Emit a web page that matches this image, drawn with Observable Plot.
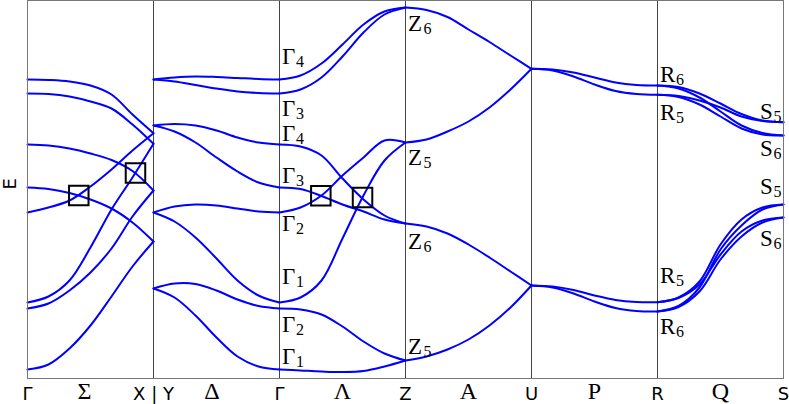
<!DOCTYPE html>
<html>
<head>
<meta charset="utf-8">
<script src="https://cdn.jsdelivr.net/npm/d3@7"></script>
<script src="https://cdn.jsdelivr.net/npm/@observablehq/plot@0.6"></script>
<style>
  html, body { margin: 0; padding: 0; background: #fff; }
</style>
</head>
<body>
<div id="chart"></div>
<script>
// Fractional positions along each k-path segment where the bands were read
const kFrac = [0, 0.1667, 0.3333, 0.5, 0.6667, 0.8333, 1];

// Band energies (arbitrary units) along Γ–X (Σ)
const bandsSigma = [
  [299, 298.5, 297, 293, 284, 264, 245.3],
  [285, 284.5, 282, 277, 270, 254, 234.7],
  [234, 233, 230, 225, 218.5, 207.5, 188],
  [191, 189.5, 185.5, 179, 170, 156, 137],
  [166, 171, 178, 192, 209, 228, 245.3],
  [76, 82, 98, 131, 169, 201, 234.7],
  [70, 75, 88, 106, 130, 162, 188],
  [9, 14, 30, 53, 82, 112, 137]
];
// Y–Γ (Δ)
const bandsDelta = [
  [299, 301, 302, 301.5, 300.5, 299.5, 299],
  [299, 297, 293.5, 290, 287, 285.5, 285],
  [253, 254.5, 253, 248, 241, 236, 234],
  [253, 247, 236, 221, 207, 196, 191],
  [166, 172, 174, 173, 170, 167, 166],
  [166, 157, 141, 120, 98, 83, 76],
  [90, 95, 94.5, 88, 79, 72.5, 70],
  [90, 81, 63, 41, 22, 12, 9]
];
// Γ–Z (Λ)
const bandsLambda = [
  [299, 303, 315, 334, 354, 367, 371],
  [285, 289, 301, 322, 346, 364, 371],
  [234, 232, 223, 200, 179, 163, 155],
  [191, 189.5, 182.5, 174, 167, 159, 155],
  [166, 171, 183, 203, 221, 238, 236],
  [76, 81, 98, 140, 183, 218, 236],
  [70, 69, 64, 52, 37, 25, 18],
  [9, 8, 7, 6.5, 7.5, 12, 18]
];
// Z–U (A), doubly degenerate pairs
const bandsA = [
  [371, 368.5, 361.5, 349, 336.5, 323, 309.7],
  [155, 152, 145, 134, 121, 107, 93],
  [236, 239, 247, 257, 271, 289, 309.7],
  [18, 22, 29, 39, 53, 71, 93]
];
// U–R (P)
const bandsP = [
  [309.7, 309, 306, 301, 296, 293.5, 293],
  [309.7, 308, 302, 294, 287.5, 284.5, 283.7],
  [93, 92, 88.5, 83, 78.5, 76.5, 76.3],
  [93, 91, 85, 77, 70.5, 67.5, 67]
];
// R–S (Q)
const bandsQ = [
  [293, 291.5, 285, 275, 264.5, 258, 256.3],
  [293, 290, 281, 267, 253, 245.5, 243],
  [283.7, 282.5, 278, 271, 262, 257.5, 256.3],
  [283.7, 281.5, 274, 262, 250, 244, 243],
  [76.3, 81, 97, 134, 159, 171, 174],
  [67, 72.5, 91, 129, 153, 169, 174],
  [76.3, 80.5, 94, 124, 147, 158, 161],
  [67, 71.5, 87, 119, 142, 156, 161]
];

// Segment boundaries (high-symmetry points between segments)
const segmentBoundaries = [1, 2, 3, 4, 5];

// Axis labels
const pointTickK = [0, 1, 2, 3, 4, 5, 6];
const pointTickLabels = ["Γ", "X | Y", "Γ", "Z", "U", "R", "S"];
const lineTickK = [0.452, 1.464, 2.5, 3.5, 4.5, 5.5];
const lineTickLabels = ["Σ", "Δ", "Λ", "A", "P", "Q"];

// Band crossings marked with squares
const crossingK = [0.407, 0.857, 2.328, 2.659];
const crossingE = [183, 205.5, 182.7, 181];

// Irreducible-representation labels
const irrepSymbols = ["Γ","Γ","Γ","Γ","Γ","Γ","Γ","Γ","Z","Z","Z","Z","R","R","R","R","S","S","S","S"];
const irrepIndices = ["4","3","4","3","2","1","2","1","6","5","6","5","6","5","5","6","5","6","5","6"];
const irrepK = [2.02,2.02,2.02,2.02,2.02,2.02,2.02,2.02, 3.02,3.02,3.02,3.02, 5.02,5.02,5.02,5.02, 5.813,5.813,5.813,5.813];
const irrepE = [315,263,238,196,148,95,47,15, 348,214,130,25, 297,259,96,45, 260,223,185,133];

// ---- build tables ----
const segmentBands = [bandsSigma, bandsDelta, bandsLambda, bandsA, bandsP, bandsQ];
const bandRows = [];
segmentBands.forEach((bands, s) => {
  bands.forEach((vals, b) => {
    vals.forEach((E, i) => bandRows.push({k: s + kFrac[i], E, id: s + "-" + b}));
  });
});
const pointTicks = pointTickK.map((k, i) => ({k, label: pointTickLabels[i]}));
const lineTicks = lineTickK.map((k, i) => ({k, label: lineTickLabels[i]}));
const crossings = crossingK.map((k, i) => ({k, E: crossingE[i]}));
const irreps = irrepSymbols.map((sym, i) => ({sym, sub: irrepIndices[i], k: irrepK[i], E: irrepE[i]}));

const subOffset = {"Γ": 14, "Z": 15.5, "R": 16, "S": 13.5};
const serif = "'Liberation Serif', 'DejaVu Serif', serif";
const sans = "'DejaVu Sans', sans-serif";

const subMarks = Object.keys(subOffset).map(sym =>
  Plot.text(irreps.filter(d => d.sym === sym), {
    x: "k", y: "E", text: "sub", textAnchor: "start", lineAnchor: "bottom",
    dx: subOffset[sym], dy: 3, fontSize: 16, fontFamily: serif, fill: "black", clip: true
  })
);

const chart = Plot.plot({
  width: 789,
  height: 404,
  marginLeft: 27,
  marginRight: 6,
  marginTop: 0,
  marginBottom: 26,
  x: {domain: [0, 6], axis: null},
  y: {domain: [0, 378], axis: null},
  style: {background: "white", fontFamily: sans},
  marks: [
    Plot.ruleX(segmentBoundaries, {stroke: "#444", strokeWidth: 1}),
    Plot.line(bandRows, {x: "k", y: "E", z: "id", stroke: "#0000ff", strokeWidth: 2, curve: "catmull-rom"}),
    Plot.dot(crossings, {x: "k", y: "E", symbol: "square", r: 11, stroke: "black", strokeWidth: 2, fill: "none"}),
    Plot.frame({stroke: "#777", strokeWidth: 1}),
    Plot.text(irreps, {x: "k", y: "E", text: "sym", textAnchor: "start", lineAnchor: "bottom",
      fontSize: 23, fontFamily: serif, fill: "black", clip: true}),
    ...subMarks,
    Plot.text(pointTicks, {x: "k", text: "label", frameAnchor: "bottom", lineAnchor: "bottom",
      dy: 21, fontSize: 18, fontFamily: sans, fill: "black"}),
    Plot.text(lineTicks, {x: "k", text: "label", frameAnchor: "bottom", lineAnchor: "bottom",
      dy: 20.5, fontSize: 24, fontFamily: serif, fill: "black"}),
    Plot.text(["E"], {frameAnchor: "left", rotate: -90, dx: -17, fontSize: 18, fontFamily: sans, fill: "black"})
  ]
});
document.getElementById("chart").appendChild(chart);
</script>
</body>
</html>
